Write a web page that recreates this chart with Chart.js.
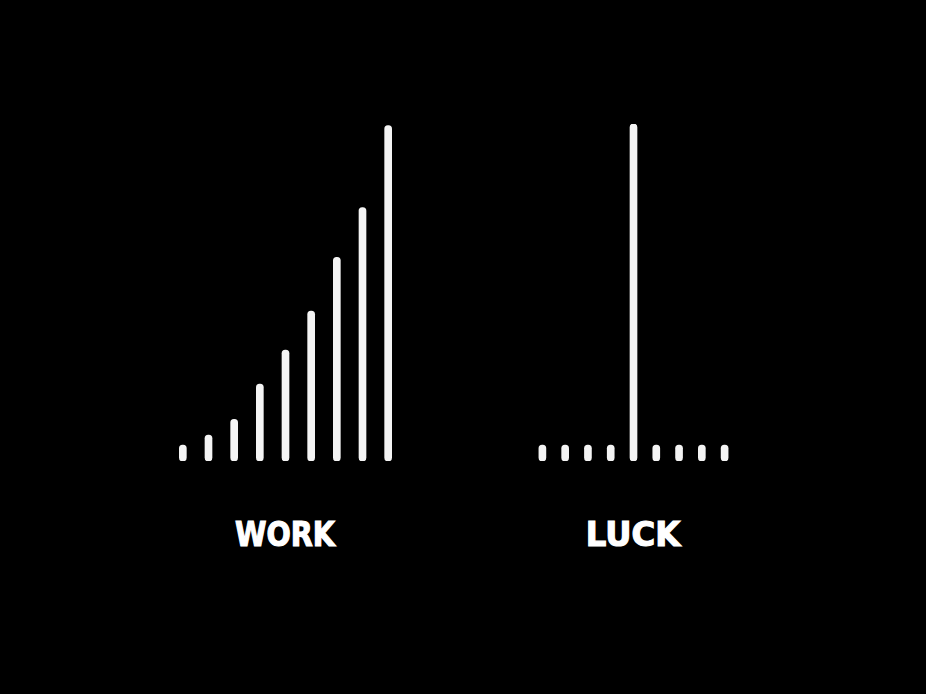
<!DOCTYPE html>
<html>
<head>
<meta charset="utf-8">
<script src="https://cdn.jsdelivr.net/npm/chart.js@4"></script>
<style>
  html, body { margin: 0; padding: 0; background: #000; width: 926px; height: 694px; overflow: hidden; }
  .wrap { position: absolute; }
  #workWrap { left: 170px; top: 124px; width: 231px; height: 337px; }
  #luckWrap { left: 531px; top: 124px; width: 205px; height: 337px; }
  .lbl { position: absolute; top: 515px; width: 200px; text-align: center; color: #fff;
         font-family: "DejaVu Sans", sans-serif; font-weight: bold; font-size: 34px; line-height: 38px;
         -webkit-text-stroke: 1.2px #fff; }
  #workLbl { left: 185px; transform: scaleX(0.84); }
  #luckLbl { left: 533px; transform: scaleX(0.95); }
</style>
</head>
<body>
<div class="wrap" id="workWrap"><canvas id="work" width="231" height="337"></canvas></div>
<div class="wrap" id="luckWrap"><canvas id="luck" width="205" height="337"></canvas></div>
<div class="lbl" id="workLbl">WORK</div>
<div class="lbl" id="luckLbl">LUCK</div>
<script>
const workCategories = ["1","2","3","4","5","6","7","8","9"];
const workValues = [4.7, 7.7, 12.4, 22.8, 32.9, 44.5, 60.4, 75.2, 99.5];
const luckCategories = ["1","2","3","4","5","6","7","8","9"];
const luckValues = [4.7, 4.7, 4.7, 4.7, 100, 4.7, 4.7, 4.7, 4.7];

function makeChart(id, labels, values) {
  return new Chart(document.getElementById(id), {
    type: 'bar',
    data: {
      labels: labels,
      datasets: [{
        data: values,
        backgroundColor: '#f4f4f4',
        borderWidth: 0,
        borderRadius: 4,
        borderSkipped: false,
        barThickness: 7
      }]
    },
    options: {
      responsive: false,
      animation: false,
      devicePixelRatio: 1,
      layout: { padding: 0 },
      plugins: { legend: { display: false }, tooltip: { enabled: false }, title: { display: false } },
      scales: {
        x: { display: false, grid: { display: false } },
        y: { display: false, min: 0, max: 100, grid: { display: false } }
      }
    }
  });
}
makeChart('work', workCategories, workValues);
makeChart('luck', luckCategories, luckValues);
</script>
</body>
</html>
